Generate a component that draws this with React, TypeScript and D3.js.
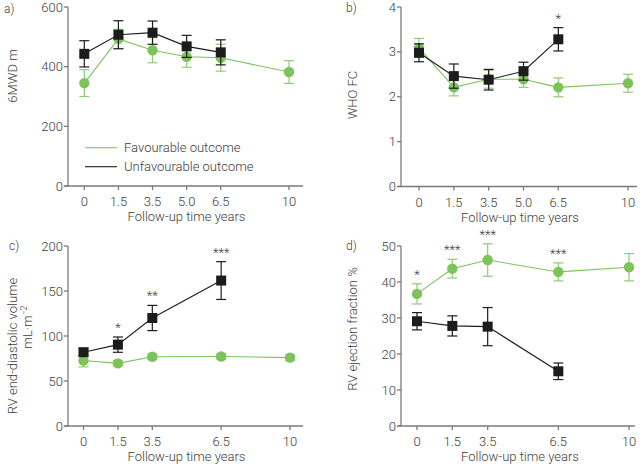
import React from "react";
import * as d3 from "d3";

// ---- Data ----
const timeLabels = ["0", "1.5", "3.5", "5.0", "6.5", "10"];
const timePos = [0, 1, 2, 3, 4, 6]; // plotting position of each time label

// Panel a: 6MWD m
const a_favMean = [345, 493, 455, 433, 430, 382];
const a_favErr = [45, 32, 42, 35, 45, 38];
const a_unfMean = [443, 507, 514, 468, 448, null];
const a_unfErr = [44, 47, 39, 37, 42, null];

// Panel b: WHO FC
const b_favMean = [3.09, 2.21, 2.39, 2.39, 2.21, 2.3];
const b_favErr = [0.21, 0.19, 0.2, 0.18, 0.21, 0.2];
const b_unfMean = [2.98, 2.46, 2.38, 2.57, 3.28, null];
const b_unfErr = [0.2, 0.27, 0.23, 0.2, 0.26, null];
const b_stars = ["", "", "", "", "*", ""];

// Panels c/d time labels: 0, 1.5, 3.5, 6.5, 10
const cdLabels = ["0", "1.5", "3.5", "6.5", "10"];
const cdPos = [0, 1, 2, 4, 6];

// Panel c: RV end-diastolic volume
const c_favMean = [72.7, 69.6, 76.9, 77.2, 76];
const c_favErr = [7, 3, 3, 3, 3];
const c_unfMean = [82, 90.4, 120, 161.6, null];
const c_unfErr = [4, 8.5, 14, 21, null];
const c_stars = ["", "*", "**", "***", ""];

// Panel d: RV ejection fraction
const d_favMean = [36.7, 43.7, 46.1, 42.8, 44.1];
const d_favErr = [2.8, 2.6, 4.5, 2.5, 3.8];
const d_unfMean = [29.1, 27.8, 27.6, 15.2, null];
const d_unfErr = [2.4, 2.8, 5.3, 2.3, null];
const d_stars = ["*", "***", "***", "***", ""];

const GREEN = "#7cc35a";
const GREEN_ERR = "#8fcb74";
const BLACK = "#1c1c1c";
const AXIS = "#7a7a7a";
const TEXT = "#3c3c3c";
const FONT = "Roboto, 'DejaVu Sans', sans-serif";
const FW = 300;

type PanelProps = {
  label: string;
  xAxisX: number;
  x0: number;
  x6: number;
  axisEnd: number;
  yBottom: number;
  yTop: number;
  yMax: number;
  yTicks: number[];
  labels: string[];
  pos: number[];
  fav: (number | null)[];
  favErr: (number | null)[];
  unf: (number | null)[];
  unfErr: (number | null)[];
  stars?: string[];
  starOnFav?: boolean;
  labelX: number;
  labelY: number;
  yTitle: React.ReactNode;
  titleX: number;
  legend?: boolean;
};

function Panel(p: PanelProps) {
  const x = d3.scaleLinear().domain([0, 6]).range([p.x0, p.x6]);
  const y = d3.scaleLinear().domain([0, p.yMax]).range([p.yBottom, p.yTop]);
  const pts = (m: (number | null)[]) =>
    m
      .map((v, i) => (v == null ? null : ([x(p.pos[i]), y(v)] as [number, number])))
      .filter((d): d is [number, number] => d !== null);
  const line = d3.line();
  const cap = 5;
  const errBars = (m: (number | null)[], e: (number | null)[], color: string) =>
    m.map((v, i) => {
      if (v == null || e[i] == null) return null;
      const cx = x(p.pos[i]);
      const yt = y(v + (e[i] as number));
      const yb = y(v - (e[i] as number));
      return (
        <g key={i} stroke={color} strokeWidth={1.2}>
          <line x1={cx} x2={cx} y1={yt} y2={yb} />
          <line x1={cx - cap} x2={cx + cap} y1={yt} y2={yt} />
          <line x1={cx - cap} x2={cx + cap} y1={yb} y2={yb} />
        </g>
      );
    });
  return (
    <g fontFamily={FONT} fontWeight={FW} fill={TEXT}>
      <text x={p.labelX} y={p.labelY} fontSize={12} dominantBaseline="middle" fill={TEXT}>
        {p.label}
      </text>
      {/* axes */}
      <line x1={p.xAxisX} x2={p.xAxisX} y1={p.yTop} y2={p.yBottom} stroke={AXIS} strokeWidth={1.3} />
      <line x1={p.xAxisX - 3.5} x2={p.axisEnd} y1={p.yBottom} y2={p.yBottom} stroke={AXIS} strokeWidth={1.3} />
      {p.yTicks.map((t) => (
        <g key={t}>
          <line x1={p.xAxisX - 4} x2={p.xAxisX} y1={y(t)} y2={y(t)} stroke={AXIS} strokeWidth={1.3} />
          <text x={p.xAxisX - 5} y={y(t) + 4.6} fontSize={13} textAnchor="end" fill={TEXT}>
            {t}
          </text>
        </g>
      ))}
      {p.labels.map((l, i) => (
        <g key={l}>
          <line x1={x(p.pos[i])} x2={x(p.pos[i])} y1={p.yBottom} y2={p.yBottom + 4} stroke={AXIS} strokeWidth={1.3} />
          <text x={x(p.pos[i])} y={p.yBottom + 20} fontSize={13} textAnchor="middle" fill={TEXT}>
            {l}
          </text>
        </g>
      ))}
      <text x={p.titleX} y={p.yBottom + 35} fontSize={13} textAnchor="middle" fill={TEXT}>
        Follow-up time years
      </text>
      {p.yTitle}
      {/* favourable */}
      {errBars(p.fav, p.favErr, GREEN_ERR)}
      <path d={line(pts(p.fav)) || ""} fill="none" stroke={GREEN} strokeWidth={1.1} />
      {pts(p.fav).map(([cx, cy], i) => (
        <circle key={i} cx={cx} cy={cy} r={5.2} fill={GREEN} />
      ))}
      {/* unfavourable */}
      {errBars(p.unf, p.unfErr, BLACK)}
      <path d={line(pts(p.unf)) || ""} fill="none" stroke={BLACK} strokeWidth={1.1} />
      {pts(p.unf).map(([cx, cy], i) => (
        <rect key={i} x={cx - 5} y={cy - 5} width={10} height={10} fill={BLACK} />
      ))}
      {/* stars */}
      {p.stars &&
        p.stars.map((s, i) => {
          if (!s) return null;
          const ref = p.starOnFav ? p.fav : p.unf;
          const refE = p.starOnFav ? p.favErr : p.unfErr;
          const v = ref[i] as number;
          const e = refE[i] as number;
          return (
            <text key={i} x={x(p.pos[i])} y={y(v + e) - 5} fontSize={13} textAnchor="middle" fill={TEXT}>
              {s}
            </text>
          );
        })}
      {p.legend && (
        <g>
          <line x1={85} x2={117} y1={147.7} y2={147.7} stroke={GREEN} strokeWidth={1.1} />
          <text x={124} y={152.3} fontSize={13} fill={TEXT}>
            Favourable outcome
          </text>
          <line x1={85} x2={117} y1={166.7} y2={166.7} stroke={BLACK} strokeWidth={1.1} />
          <text x={124} y={171.3} fontSize={13} fill={TEXT}>
            Unfavourable outcome
          </text>
        </g>
      )}
    </g>
  );
}

const rotText = (x: number, y: number, content: React.ReactNode) => (
  <text
    transform={`translate(${x},${y}) rotate(-90)`}
    fontSize={13}
    textAnchor="middle"
    dy={4.6}
    fill={TEXT}
    fontFamily={FONT}
    fontWeight={FW}
  >
    {content}
  </text>
);

export default function App() {
  return (
    <svg
      width={640}
      height={465}
      style={{ position: "absolute", left: 0, top: 0, background: "#fff" }}
    >
      <Panel
        label="a)"
        labelX={4}
        labelY={10}
        xAxisX={68}
        x0={84.3}
        x6={289}
        axisEnd={303}
        yBottom={186}
        yTop={7}
        yMax={600}
        yTicks={[0, 200, 400, 600]}
        labels={timeLabels}
        pos={timePos}
        fav={a_favMean}
        favErr={a_favErr}
        unf={a_unfMean}
        unfErr={a_unfErr}
        titleX={186.5}
        yTitle={rotText(12, 76, "6MWD m")}
        legend
      />
      <Panel
        label="b)"
        labelX={346}
        labelY={9}
        xAxisX={401}
        x0={419}
        x6={628}
        axisEnd={637}
        yBottom={186.5}
        yTop={7}
        yMax={4}
        yTicks={[0, 1, 2, 3, 4]}
        labels={timeLabels}
        pos={timePos}
        fav={b_favMean}
        favErr={b_favErr}
        unf={b_unfMean}
        unfErr={b_unfErr}
        stars={b_stars}
        titleX={520}
        yTitle={rotText(352, 95, "WHO FC")}
      />
      <Panel
        label="c)"
        labelX={9}
        labelY={247}
        xAxisX={68}
        x0={83.5}
        x6={290}
        axisEnd={303}
        yBottom={426}
        yTop={246}
        yMax={200}
        yTicks={[0, 50, 100, 150, 200]}
        labels={cdLabels}
        pos={cdPos}
        fav={c_favMean}
        favErr={c_favErr}
        unf={c_unfMean}
        unfErr={c_unfErr}
        stars={c_stars}
        titleX={186.5}
        yTitle={
          <g>
            {rotText(12, 346, "RV end-diastolic volume")}
            {rotText(
              27,
              327,
              <>
                mL·m
                <tspan fontSize={9} dy={-5}>
                  −2
                </tspan>
              </>
            )}
          </g>
        }
      />
      <Panel
        label="d)"
        labelX={346}
        labelY={247}
        xAxisX={401}
        x0={417}
        x6={629}
        axisEnd={635}
        yBottom={426}
        yTop={246}
        yMax={50}
        yTicks={[0, 10, 20, 30, 40, 50]}
        labels={cdLabels}
        pos={cdPos}
        fav={d_favMean}
        favErr={d_favErr}
        unf={d_unfMean}
        unfErr={d_unfErr}
        stars={d_stars}
        starOnFav
        titleX={520}
        yTitle={rotText(352, 329, "RV ejection fraction %")}
      />
    </svg>
  );
}
